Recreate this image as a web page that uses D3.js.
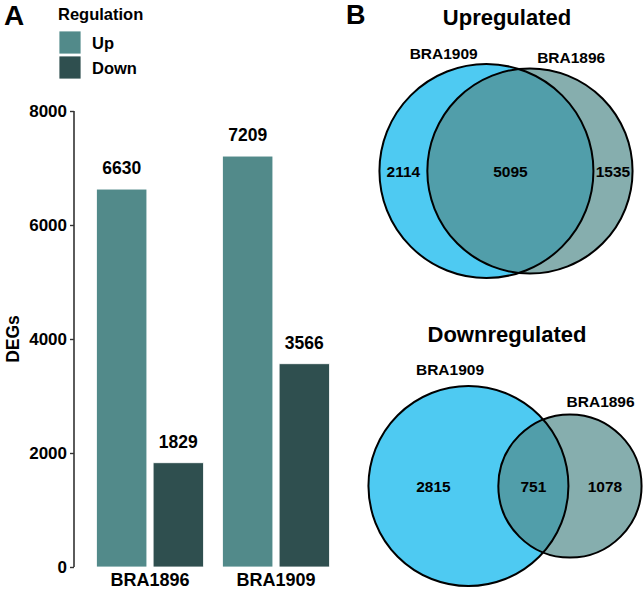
<!DOCTYPE html>
<html>
<head>
<meta charset="utf-8">
<script src="https://cdn.jsdelivr.net/npm/d3@7"></script>
<style>
  body { margin: 0; background: #fff; }
  text { font-family: "Liberation Sans", Arial, sans-serif; font-weight: bold; fill: #000; }
</style>
</head>
<body>
<div id="chart"></div>
<script>
// data
const strains     = ["BRA1896", "BRA1909"];
const regulation  = ["Up", "Down"];
const upCounts    = [6630, 7209];
const downCounts  = [1829, 3566];
const yTicks      = [0, 2000, 4000, 6000, 8000];

const vennTitles  = ["Upregulated", "Downregulated"];
const vennSets    = ["BRA1909", "BRA1896"];
const vennUp      = [2114, 5095, 1535];   // left only, both, right only
const vennDown    = [2815, 751, 1078];

const colors = { Up: "#528a8a", Down: "#2f4f4f" };
const vennFill = ["#4ecaf2", "#528b8b"];

window.onload = () => {
    const dimensions = { width: 644, height: 589 };

    const svg = d3.select('#chart')
        .append("svg")
        .attr("width", dimensions.width)
        .attr("height", dimensions.height);

    // ---------- panel A ----------
    const barData = [];
    strains.forEach((s, i) => {
        barData.push({ strain: s, reg: "Up", value: upCounts[i] });
        barData.push({ strain: s, reg: "Down", value: downCounts[i] });
    });

    const yScale = d3.scaleLinear().domain([0, 8000]).range([567, 111]);
    const x0 = d3.scaleBand().domain(strains).range([87, 339])
        .paddingInner(0.15).paddingOuter(0.075);
    const x1 = d3.scaleBand().domain(regulation).range([0, x0.bandwidth()])
        .paddingInner(0.11);

    svg.append("text").attr("x", 4).attr("y", 25)
        .style("font-size", "28px").text("A");

    // legend
    svg.append("text").attr("x", 58).attr("y", 20)
        .style("font-size", "16.5px").text("Regulation");
    const legend = svg.append("g").selectAll("g")
        .data(regulation).join("g")
        .attr("transform", (d, i) => `translate(59, ${31 + i * 25})`);
    legend.append("rect")
        .attr("width", 22).attr("height", 23)
        .attr("fill", d => colors[d])
        .attr("stroke", "#fff").attr("stroke-width", 0.8);
    legend.append("text")
        .attr("x", 33).attr("y", 17.5)
        .style("font-size", "16.5px")
        .text(d => d);

    // y axis
    const yAxis = d3.axisLeft(yScale).tickValues(yTicks)
        .tickFormat(d3.format("d")).tickSize(4).tickPadding(3);
    const axisG = svg.append("g").attr("transform", "translate(74,0)").call(yAxis);
    axisG.select(".domain").attr("d", `M0,${yScale(8000)}V${yScale(0)}`)
        .attr("stroke", "#333").attr("stroke-width", 1.6);
    axisG.selectAll(".tick line").attr("stroke", "#333").attr("stroke-width", 1.4);
    axisG.selectAll(".tick text")
        .style("font-family", '"Liberation Sans", Arial, sans-serif')
        .style("font-weight", "bold").style("font-size", "17px").attr("fill", "#000");

    svg.append("text")
        .attr("transform", `translate(19, ${yScale(4000)}) rotate(-90)`)
        .attr("text-anchor", "middle")
        .style("font-size", "17.5px").text("DEGs");

    // bars
    svg.append("g").selectAll("rect")
        .data(barData).join("rect")
        .attr("x", d => x0(d.strain) + x1(d.reg))
        .attr("y", d => yScale(d.value))
        .attr("width", x1.bandwidth())
        .attr("height", d => yScale(0) - yScale(d.value))
        .attr("fill", d => colors[d.reg])
        .attr("stroke", "#fff").attr("stroke-width", 0.8);

    svg.append("g").selectAll("text")
        .data(barData).join("text")
        .attr("x", d => x0(d.strain) + x1(d.reg) + x1.bandwidth() / 2)
        .attr("y", d => yScale(d.value) - 15)
        .attr("text-anchor", "middle")
        .style("font-size", "17.5px")
        .text(d => d.value);

    svg.append("g").selectAll("text")
        .data(strains).join("text")
        .attr("x", d => x0(d) + x0.bandwidth() / 2)
        .attr("y", 586)
        .attr("text-anchor", "middle")
        .style("font-size", "18px")
        .text(d => d);

    // ---------- panel B ----------
    svg.append("text").attr("x", 346).attr("y", 24)
        .style("font-size", "27px").text("B");

    function overlapArea(r1, r2, d) {
        if (d >= r1 + r2) return 0;
        if (d <= Math.abs(r1 - r2)) return Math.PI * Math.min(r1, r2) ** 2;
        const a = r1 * r1 * Math.acos((d * d + r1 * r1 - r2 * r2) / (2 * d * r1));
        const b = r2 * r2 * Math.acos((d * d + r2 * r2 - r1 * r1) / (2 * d * r2));
        const c = 0.5 * Math.sqrt((-d + r1 + r2) * (d + r1 - r2) * (d - r1 + r2) * (d + r1 + r2));
        return a + b - c;
    }

    function drawVenn(counts, title, opts) {
        const totals = [counts[0] + counts[1], counts[1] + counts[2]];
        const rScale = d3.scaleSqrt().domain([0, d3.max(totals)]).range([0, opts.rMax]);
        const r1 = rScale(totals[0]), r2 = rScale(totals[1]);
        const target = counts[1] / totals[0] * Math.PI * r1 * r1;
        let lo = Math.abs(r1 - r2), hi = r1 + r2;
        for (let k = 0; k < 60; k++) {
            const mid = (lo + hi) / 2;
            if (overlapArea(r1, r2, mid) > target) lo = mid; else hi = mid;
        }
        const dist = (lo + hi) / 2;
        const span = r1 + dist + r2;
        const c1x = opts.cx - span / 2 + r1;
        const c2x = c1x + dist;
        const cy = opts.cy;

        const g = svg.append("g");
        g.append("text").attr("x", 507).attr("y", opts.titleY)
            .attr("text-anchor", "middle").style("font-size", "22px").text(title);

        const circles = [
            { x: c1x, r: r1, fill: vennFill[0], op: 1 },
            { x: c2x, r: r2, fill: vennFill[1], op: 0.7 }
        ];
        g.selectAll("circle.fill").data(circles).join("circle")
            .attr("class", "fill")
            .attr("cx", d => d.x).attr("cy", cy).attr("r", d => d.r)
            .attr("fill", d => d.fill).attr("fill-opacity", d => d.op);
        g.selectAll("circle.edge").data(circles).join("circle")
            .attr("class", "edge")
            .attr("cx", d => d.x).attr("cy", cy).attr("r", d => d.r)
            .attr("fill", "none").attr("stroke", "#000").attr("stroke-width", 2);

        // region counts
        const edges = [c1x - r1, c2x - r2, c1x + r1, c2x + r2];
        g.selectAll("text.count").data(counts).join("text")
            .attr("class", "count")
            .attr("x", (d, i) => (edges[i] + edges[i + 1]) / 2)
            .attr("y", cy)
            .attr("dy", "0.36em")
            .attr("text-anchor", "middle")
            .style("font-size", "15.5px")
            .text(d => d);

        // set names
        g.selectAll("text.set").data(vennSets).join("text")
            .attr("class", "set")
            .attr("x", (d, i) => circles[i].x + (circles[i].r + 18) * Math.sin(opts.angles[i] * Math.PI / 180))
            .attr("y", (d, i) => cy - (circles[i].r + 18) * Math.cos(opts.angles[i] * Math.PI / 180))
            .attr("dy", "0.36em")
            .attr("text-anchor", "middle")
            .style("font-size", "15.5px")
            .text(d => d);
    }

    drawVenn(vennUp, vennTitles[0], { cx: 506, cy: 171, rMax: 107, titleY: 25, angles: [-20, 20] });
    drawVenn(vennDown, vennTitles[1], { cx: 505, cy: 486, rMax: 100, titleY: 342, angles: [-9, 20] });
}
</script>
</body>
</html>
